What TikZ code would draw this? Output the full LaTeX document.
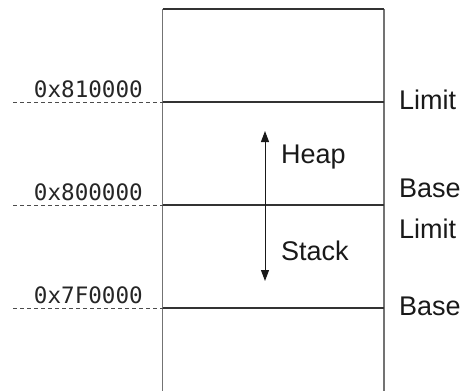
\documentclass[tikz,border=0pt]{standalone}
\usepackage{fontspec}
\setmainfont{Liberation Sans}
\setmonofont{DejaVu Sans Mono}
\usetikzlibrary{arrows.meta,positioning,calc}

\begin{document}
\begin{tikzpicture}[
    x=1pt, y=-1pt,
    addr/.style={anchor=base east, inner sep=0pt, font=\fontsize{22.6}{23}\selectfont\ttfamily, text=black!85},
    tag/.style={anchor=west, inner sep=0pt, font=\fontsize{27}{27}\selectfont, text=black!90},
    side/.style={draw=black!55, line width=1.8pt},
    level/.style={draw=black!80, line width=1.1pt},
    guide/.style={draw=black!70, dash pattern=on 4pt off 3pt, line width=0.9pt},
    growth/.style={{Triangle[length=11pt,width=8pt]}-{Triangle[length=11pt,width=8pt]}, line width=1pt, draw=black!90},
]
\useasboundingbox (0,0) rectangle (472,391);

% Memory column
\coordinate (tl) at (162.5,9);
\coordinate (tr) at (384,9);
\coordinate (bl) at (162.5,391);
\coordinate (br) at (384,391);
\draw[side] (bl) -- (tl);
\draw[side] (br) -- (tr);
\draw[level, line width=1.4pt] (tl) -- (tr);

% Region boundaries
\coordinate (top_l) at (162.5,102);
\coordinate (top_r) at (384,102);
\coordinate (mid_l) at (162.5,205);
\coordinate (mid_r) at (384,205);
\coordinate (low_l) at (162.5,308);
\coordinate (low_r) at (384,308);
\coordinate (top_d) at (13,102);
\coordinate (mid_d) at (13,205);
\coordinate (low_d) at (13,308);

\draw[level] (top_l) -- (top_r);
\draw[level, line width=2.2pt] (mid_l) -- (mid_r);
\draw[level] (low_l) -- (low_r);

\draw[guide] (top_d) -- (top_l);
\draw[guide] (mid_d) -- (mid_l);
\draw[guide] (low_d) -- (low_l);

% Addresses
\node[addr] (a_top) at (143,97) {0x810000};
\node[addr] (a_mid) at (143,200) {0x800000};
\node[addr] (a_low) at (143,303) {0x7F0000};

% Limits and bases
\node[tag] (heap_limit) at (399,100) {Limit};
\node[tag] (heap_base) at (399,188) {Base};
\node[tag] (stack_limit) at (399,229) {Limit};
\node[tag] (stack_base) at (399,306) {Base};

% Growth directions
\coordinate (heap_end) at (265,131);
\coordinate (stack_end) at (265,281);
\draw[growth] (heap_end) -- (stack_end);
\node[tag] (heap) at (281,157) {Heap};
\node[tag] (stack) at (281,251) {Stack};

\end{tikzpicture}
\end{document}
